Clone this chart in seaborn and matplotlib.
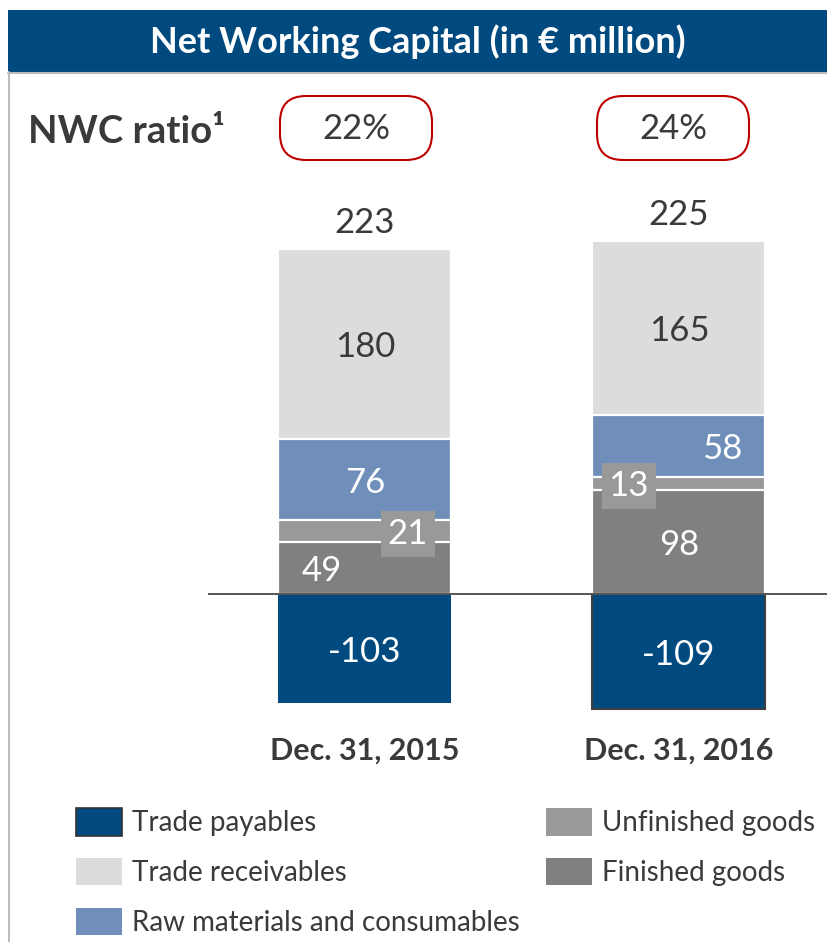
import numpy as np
import pandas as pd

import matplotlib
matplotlib.use("Agg")

import matplotlib.pyplot as plt
from matplotlib.patches import Rectangle, FancyBboxPatch, Patch
from matplotlib.lines import Line2D
import seaborn as sns

# ---------------- DATA ----------------
years = ["Dec. 31, 2015", "Dec. 31, 2016"]
trade_payables = [-103, -109]
finished_goods = [49, 98]
unfinished_goods = [21, 13]
raw_materials = [76, 58]
trade_receivables = [180, 165]
nwc_ratio = ["22%", "24%"]

layers = ["Finished goods", "Unfinished goods",
          "Raw materials and consumables", "Trade receivables"]
colors = {
    "Trade payables": "#004a7f",
    "Trade receivables": "#dcdcdc",
    "Raw materials and consumables": "#6f8fba",
    "Unfinished goods": "#999999",
    "Finished goods": "#808080",
}

stack = pd.DataFrame({
    "year": years,
    "Finished goods": finished_goods,
    "Unfinished goods": unfinished_goods,
    "Raw materials and consumables": raw_materials,
    "Trade receivables": trade_receivables,
})
tops = stack[layers].cumsum(axis=1)
net = stack[layers].sum(axis=1) + np.array(trade_payables)

# ---------------- LAYOUT ----------------
W, H, DPI = 828, 942, 100
ZERO_PX = 594
SCALE = 345 / 326          # pixels per EUR million
AX_TOP, AX_BOT = 190, 720
BAR_W = 173 / 314
DARK = "#3a3a3a"
NUDGE = 3 / SCALE          # small downward nudge for labels

sns.set_style("white")
plt.rcParams["font.family"] = ["Lato", "DejaVu Sans"]

fig = plt.figure(figsize=(W / DPI, H / DPI), dpi=DPI)


def frac(x0, y0, x1, y1):
    return [x0 / W, 1 - y1 / H, (x1 - x0) / W, (y1 - y0) / H]


ax = fig.add_axes(frac(208, AX_TOP, 828, AX_BOT))

# stacked positive part, drawn from the tallest cumulative total down
for name in reversed(layers):
    sns.barplot(x=years, y=tops[name].values, order=years, color=colors[name],
                saturation=1, width=BAR_W, edgecolor="white", linewidth=1.6,
                errorbar=None, ax=ax)

sns.barplot(x=years, y=trade_payables, order=years,
            color=colors["Trade payables"], saturation=1, width=BAR_W,
            edgecolor=colors["Trade payables"], linewidth=0, errorbar=None, ax=ax)
ax.patches[-1].set_edgecolor("#404040")
ax.patches[-1].set_linewidth(1.5)

ax.set_xlim(-(365 - 208) / 314, 1 + (828 - 679) / 314)
ax.set_ylim(-(AX_BOT - ZERO_PX) / SCALE, (ZERO_PX - AX_TOP) / SCALE)
ax.axhline(0, color="#555555", lw=1.4, zorder=5)
ax.axis("off")

# ---------------- VALUE LABELS ----------------
val_kw = dict(ha="center", va="center", fontsize=25, fontweight="normal")
x_shift = {  # horizontal nudges, data units
    ("Finished goods", 0): -0.137,
    ("Unfinished goods", 0): 0.137,
    ("Unfinished goods", 1): -0.16,
    ("Raw materials and consumables", 1): 0.137,
}
for i in range(len(years)):
    for name in layers:
        v = stack.loc[i, name]
        y = tops.loc[i, name] - v / 2 - NUDGE
        dx = x_shift.get((name, i), 0)
        col = DARK if name == "Trade receivables" else "white"
        box = None
        if name == "Unfinished goods":
            box = dict(boxstyle="square,pad=0.2", fc=colors[name], ec="none")
        ax.text(i + dx, y, f"{v}", color=col, bbox=box, zorder=6, **val_kw)
    ax.text(i, trade_payables[i] / 2 - NUDGE, f"{trade_payables[i]}",
            color="white", zorder=6, **val_kw)
    ax.text(i, tops.loc[i, layers[-1]] + 29 / SCALE - NUDGE, f"{net[i]}",
            color=DARK, zorder=6, **val_kw)
    ax.text(i, -(751 - ZERO_PX) / SCALE, years[i], color=DARK, ha="center",
            va="center", fontsize=22, fontweight="bold", clip_on=False)

# ---------------- FRAME / HEADER ----------------
fig.add_artist(Rectangle((8 / W, 1 - 72 / H), 820 / W, 62 / H,
                         transform=fig.transFigure, fc="#004a7f", ec="none"))
fig.text((8 + 828) / 2 / W, 1 - 42 / H, "Net Working Capital (in € million)",
         color="white", ha="center", va="center", fontsize=26,
         fontweight="bold")
fig.add_artist(Line2D([9 / W, 9 / W], [1 - 72 / H, 0], color="#bbbbbb",
                      lw=1.5, transform=fig.transFigure))
fig.add_artist(Line2D([8 / W, 1], [1 - 73 / H, 1 - 73 / H], color="#bbbbbb",
                      lw=1.5, transform=fig.transFigure))

fig.text(28 / W, 1 - 132 / H, "NWC ratio¹", color=DARK, ha="left",
         va="center", fontsize=27.5, fontweight="bold")

for cx, txt in zip([356, 673], nwc_ratio):
    fig.add_artist(FancyBboxPatch(((cx - 76) / DPI, (H - 160) / DPI),
                                  152 / DPI, 64 / DPI,
                                  boxstyle="round,pad=0,rounding_size=0.26",
                                  transform=fig.dpi_scale_trans,
                                  fc="white", ec="#c00000", lw=1.5))
    fig.text(cx / W, 1 - 129 / H, txt, color=DARK, ha="center", va="center",
             fontsize=25, fontweight="normal")

# ---------------- LEGEND ----------------
legend_order = ["Trade payables", "Trade receivables",
                "Raw materials and consumables", "Unfinished goods",
                "Finished goods"]
handles = [Patch(fc=colors[n], ec="#333333" if n == "Trade payables" else "none",
                 lw=1.2) for n in legend_order]
fig.legend(handles, legend_order, ncol=2, loc="upper left",
           bbox_to_anchor=(76 / W, 1 - 808 / H), frameon=False,
           handlelength=1.65, handleheight=1.15, handletextpad=0.36,
           labelspacing=0.78, columnspacing=0.95, borderpad=0,
           borderaxespad=0, labelcolor=DARK, prop={"weight": "normal", "size": 20})

fig.savefig("out.png", dpi=DPI)
